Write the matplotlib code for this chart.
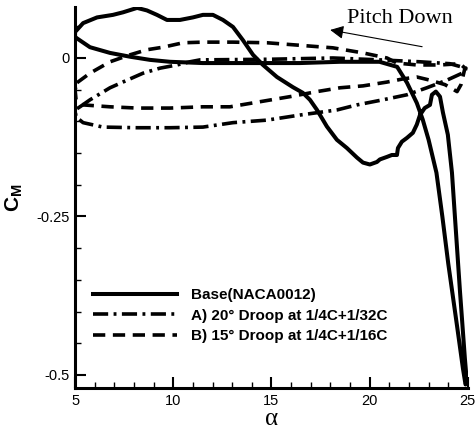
import matplotlib
matplotlib.use('Agg')
import matplotlib.pyplot as plt
from matplotlib.ticker import MultipleLocator

plt.rcParams['font.family'] = ['Liberation Sans', 'DejaVu Sans']
plt.rcParams['axes.unicode_minus'] = False
plt.rcParams['mathtext.fontset'] = 'custom'
plt.rcParams['mathtext.bf'] = 'Liberation Sans:bold'
plt.rcParams['mathtext.rm'] = 'Liberation Sans'

# Base (NACA0012) loop: upstroke along the lower branch, stall, then downstroke
base_alpha = [5.0, 5.76, 6.78, 7.8, 8.82, 9.83, 11.5, 13.9, 16.45, 18.5, 20.5,
              21.4, 21.9, 22.4, 22.7, 23.0, 23.4, 23.7, 24.0, 24.45, 24.75, 24.88,
              24.95, 24.85, 24.6, 24.34, 24.19, 23.98, 23.73, 23.58, 23.37, 23.17,
              23.07, 22.8, 22.56, 22.4, 22.2, 21.9, 21.64, 21.44, 21.39, 21.13,
              20.88, 20.52, 20.37, 20.01, 19.66, 19.35, 18.84, 18.33, 17.82, 17.32,
              16.96, 16.6, 16.09, 15.28, 14.57, 14.06, 13.55, 13.04, 12.53, 12.02,
              11.51, 11.0, 10.34, 9.68, 9.17, 8.66, 8.16, 7.44, 6.93, 6.12, 5.41, 5.0,
              5.0]
base_cm = [0.033, 0.017, 0.008, 0.002, -0.003, -0.006, -0.008, -0.008, -0.008,
           -0.006, -0.006, -0.014, -0.039, -0.071, -0.097, -0.129, -0.181, -0.25,
           -0.324, -0.423, -0.490, -0.515, -0.511, -0.475, -0.369, -0.25, -0.181,
           -0.121, -0.086, -0.061, -0.053, -0.058, -0.074, -0.079, -0.090, -0.105,
           -0.118, -0.126, -0.132, -0.142, -0.153, -0.153, -0.156, -0.160, -0.164,
           -0.168, -0.165, -0.157, -0.142, -0.129, -0.108, -0.082, -0.066, -0.055,
           -0.046, -0.030, -0.011, 0.005, 0.028, 0.049, 0.060, 0.068, 0.068, 0.064,
           0.060, 0.060, 0.068, 0.075, 0.079, 0.072, 0.068, 0.064, 0.055, 0.041,
           0.033]

# A) 20 deg droop at 1/4C+1/32C
droop_a_alpha = [5.25, 5.76, 6.78, 7.65, 8.46, 9.33, 10.19, 10.85, 11.36, 14.92,
                 18.13, 20.52, 22.56, 24.08, 24.9, 24.85, 23.93, 22.91, 21.9, 20.67,
                 19.35, 18.33, 16.45, 14.77, 13.04, 11.51, 9.83, 8.16, 6.42, 5.41,
                 5.05, 5.0, 5.25]
droop_a_cm = [-0.077, -0.066, -0.047, -0.035, -0.024, -0.016, -0.011, -0.006,
              -0.003, -0.002, 0.0, -0.003, -0.006, -0.009, -0.016, -0.022, -0.035,
              -0.047, -0.058, -0.066, -0.074, -0.082, -0.090, -0.098, -0.102,
              -0.109, -0.110, -0.110, -0.109, -0.102, -0.093, -0.082, -0.077]

# B) 15 deg droop at 1/4C+1/16C
droop_b_alpha = [5.1, 5.76, 6.78, 7.8, 8.66, 9.48, 10.5, 11.51, 13.04, 14.77,
                 16.45, 18.13, 19.66, 20.88, 21.39, 22.4, 23.58, 24.6, 24.85,
                 24.65, 24.45, 23.83, 23.07, 22.4, 21.7, 20.88, 19.66, 18.49, 17.32,
                 15.94, 14.41, 12.89, 11.51, 9.83, 8.16, 6.78, 5.41, 5.05, 5.0, 5.1]
droop_b_cm = [-0.039, -0.024, -0.006, 0.005, 0.013, 0.017, 0.024, 0.025, 0.025,
              0.024, 0.020, 0.016, 0.008, 0.0, -0.008, -0.011, -0.011, -0.009,
              -0.016, -0.042, -0.053, -0.042, -0.035, -0.030, -0.033, -0.038,
              -0.044, -0.047, -0.053, -0.061, -0.069, -0.077, -0.077, -0.079,
              -0.079, -0.077, -0.074, -0.066, -0.050, -0.039]

labels = ['Base(NACA0012)',
          'A) 20° Droop at 1/4C+1/32C',
          'B) 15° Droop at 1/4C+1/16C']

fig = plt.figure(figsize=(4.75, 4.3), dpi=100)
ax = fig.add_axes([0.158, 0.0977, 0.827, 0.886])

ax.plot(base_alpha, base_cm, color='black', lw=2.9, label=labels[0])
ax.plot(droop_a_alpha, droop_a_cm, color='black', lw=2.6,
        dashes=(4.2, 1.5, 0.8, 1.5), label=labels[1])
ax.plot(droop_b_alpha, droop_b_cm, color='black', lw=2.6,
        dashes=(3.4, 2.1), label=labels[2])

ax.set_xlim(5, 25)
ax.set_ylim(-0.5205, 0.0804)
ax.set_xticks([5, 10, 15, 20, 25])
ax.set_yticks([0, -0.25, -0.5])
ax.set_yticklabels(['0', '-0.25', '-0.5'])
ax.xaxis.set_minor_locator(MultipleLocator(1))
ax.yaxis.set_minor_locator(MultipleLocator(0.05))
ax.tick_params(which='major', direction='in', length=8, width=1.5,
               labelsize=10.5, pad=4)
ax.tick_params(which='minor', direction='in', length=4, width=1.0)
for side in ['top', 'right']:
    ax.spines[side].set_visible(False)
for side in ['left', 'bottom']:
    ax.spines[side].set_linewidth(2.2)

ax.set_xlabel('α', fontsize=18, family='Liberation Serif', labelpad=0)
ax.set_ylabel(r'$\mathbf{C_M}$', fontsize=15, labelpad=8)

ax.annotate('', xy=(17.85, 0.045), xytext=(22.81, 0.017),
            arrowprops=dict(arrowstyle='-|>', color='black', lw=0.8,
                            mutation_scale=20))
ax.text(18.85, 0.055, 'Pitch Down', family='Liberation Serif', fontsize=16)

leg = ax.legend(loc='upper left', bbox_to_anchor=(0.046, 0.262), frameon=False,
                handlelength=5.5, handletextpad=0.9, labelspacing=0.42,
                borderpad=0, borderaxespad=0,
                prop={'weight': 'bold', 'size': 11})

fig.savefig('out.png', dpi=100)
